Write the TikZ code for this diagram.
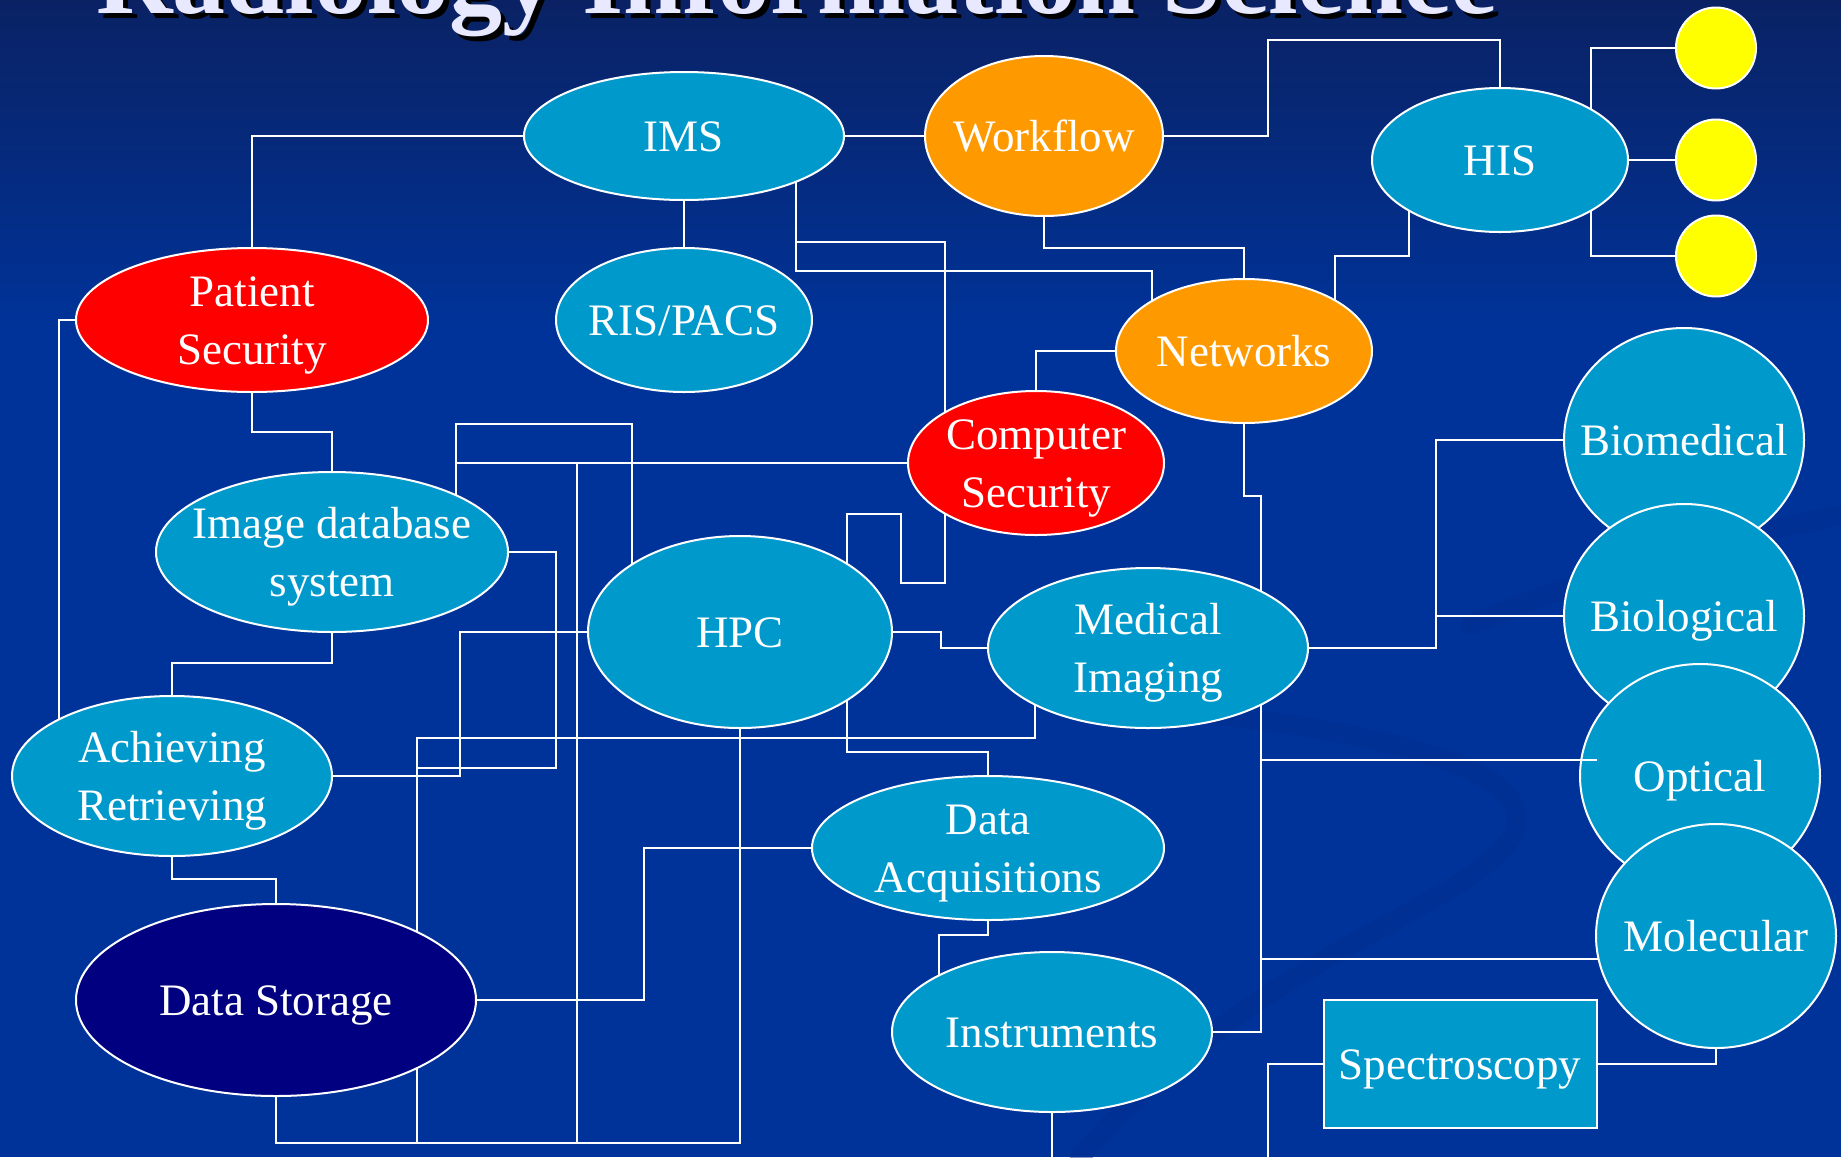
\documentclass[tikz,border=0pt]{standalone}
\usepackage{fontspec}
\setmainfont{Liberation Serif}
\usetikzlibrary{shapes.geometric}
\pgfdeclarelayer{bg}
\pgfdeclarelayer{lines}
\pgfsetlayers{bg,lines,main}
\definecolor{cyanb}{RGB}{0,153,204}
\definecolor{orng}{RGB}{255,153,0}
\definecolor{redn}{RGB}{255,0,0}
\definecolor{navyn}{RGB}{0,0,128}
\definecolor{yel}{RGB}{255,255,0}
\definecolor{bgmain}{RGB}{0,51,153}
\definecolor{bgtop}{RGB}{10,34,100}
\definecolor{titlecol}{RGB}{232,232,255}
\definecolor{swoosh}{RGB}{0,45,140}
\newcommand\lblfont{\fontsize{45}{58}\selectfont}
\newcommand\titlefont{\fontsize{106}{116}\selectfont\bfseries}
\newcommand\Ln[1]{\smash{#1}\rule{0pt}{30pt}}
\newcommand\Bub[7]{%
  \node[bub, fill=#6, minimum width=#4pt, minimum height=#5pt] (#1) at (#2,#3) {};
  \node[lbl] (#1-t) at (#1.center) {#7};}
\newcommand\ttl{Radiology Information Science}
\begin{document}
\begin{tikzpicture}[x=1pt,y=-1pt,
  bub/.style={ellipse, draw=white, line width=2pt, inner sep=0pt, outer sep=0pt},
  lbl/.style={text=white, font=\lblfont, align=center, inner sep=0pt},
  conn/.style={draw=white, line width=2pt},
  swirl/.style={draw=swoosh, line width=20pt, line cap=round, opacity=0.45}]
\useasboundingbox (0,0) rectangle (1841,1157);
\clip (0,0) rectangle (1841,1157);
\begin{pgfonlayer}{bg}
  \fill[bgmain] (0,0) rectangle (1841,1157);
  \shade[top color=bgtop, bottom color=bgmain] (0,0) rectangle (1841,330);
  \draw[swirl] (1060,700) .. controls (1330,720) and (1560,760) .. (1510,840)
     .. controls (1460,910) and (1250,960) .. (1080,1157);
  \draw[swirl] (1470,625) .. controls (1600,570) and (1720,540) .. (1841,515);
\end{pgfonlayer}

% title with its shadow
\node[anchor=base west, inner sep=0pt, font=\titlefont, text=titlecol] (title) at (96,13)
  {\rlap{\hspace{5pt}\raisebox{-5pt}{\color{black}\ttl}}\ttl};

% nodes
\Bub{ims}{684}{136}{320}{128}{cyanb}{\Ln{IMS}}
\Bub{workflow}{1044}{136}{238}{160}{orng}{\Ln{Workflow}}
\Bub{his}{1500}{160}{256}{144}{cyanb}{\Ln{HIS}}
\node[bub, fill=yel, minimum width=80pt, minimum height=81pt] (y1) at (1716,48) {};
\node[bub, fill=yel, minimum width=80pt, minimum height=81pt] (y2) at (1716,160) {};
\node[bub, fill=yel, minimum width=80pt, minimum height=81pt] (y3) at (1716,256) {};
\Bub{patsec}{252}{320}{352}{144}{redn}{\Ln{Patient}\\\Ln{Security}}
\Bub{rispacs}{684}{320}{256}{144}{cyanb}{\Ln{RIS/PACS}}
\Bub{networks}{1244}{351}{256}{144}{orng}{\Ln{Networks}}
\Bub{compsec}{1036}{463}{256}{144}{redn}{\Ln{Computer}\\\Ln{Security}}
\Bub{idb}{332}{552}{352}{160}{cyanb}{\Ln{Image database}\\\Ln{system}}
\Bub{hpc}{740}{632}{304}{192}{cyanb}{\Ln{HPC}}
\Bub{mi}{1148}{648}{320}{160}{cyanb}{\Ln{Medical}\\\Ln{Imaging}}
\Bub{achv}{172}{776}{320}{160}{cyanb}{\Ln{Achieving}\\\Ln{Retrieving}}
\Bub{dacq}{988}{848}{352}{144}{cyanb}{\Ln{Data}\\\Ln{Acquisitions}}
\Bub{dstor}{276}{1000}{400}{192}{navyn}{\Ln{Data Storage}}
\Bub{instr}{1052}{1032}{320}{160}{cyanb}{\Ln{Instruments}}
\Bub{biomed}{1684}{440}{240}{224}{cyanb}{\Ln{Biomedical}}
\Bub{biol}{1684}{616}{240}{224}{cyanb}{\Ln{Biological}}
\Bub{optical}{1700}{776}{240}{224}{cyanb}{\Ln{Optical}}
\Bub{molec}{1716}{936}{240}{224}{cyanb}{\Ln{Molecular}}
\node[draw=white, line width=2pt, fill=cyanb, minimum width=273pt, minimum height=128pt, inner sep=0pt] (spectro) at (1460,1064) {};
\node[lbl] (spectro-t) at (spectro.center) {\Ln{Spectroscopy}};

% bend points
\coordinate (c4a) at (1268,40);
\coordinate (hisx) at (1591,160);
\coordinate (c8) at (1100,248);
\coordinate (c9a) at (1409,256);
\coordinate (c9b) at (1335,256);
\coordinate (k1) at (796,242);
\coordinate (k2) at (945,242);
\coordinate (k3) at (945,583);
\coordinate (k4) at (901,583);
\coordinate (k5) at (901,514);
\coordinate (k6) at (847,514);
\coordinate (k7) at (796,271);
\coordinate (k8) at (1152,271);
\coordinate (k9) at (59,320);
\coordinate (k10) at (290,432);
\coordinate (k11) at (250,663);
\coordinate (k12) at (456,424);
\coordinate (k13) at (632,424);
\coordinate (k14) at (456,463);
\coordinate (k15) at (556,768);
\coordinate (k16) at (417,768);
\coordinate (k17) at (460,632);
\coordinate (k18) at (941,640);
\coordinate (k19) at (1035,738);
\coordinate (k20) at (417,738);
\coordinate (k21) at (417,1143);
\coordinate (k22) at (740,1143);
\coordinate (k23) at (577,463);
\coordinate (k24) at (577,1143);
\coordinate (k25) at (847,752);
\coordinate (k26) at (644,900);
\coordinate (k27) at (220,879);
\coordinate (k28) at (939,935);
\coordinate (k29) at (1261,496);
\coordinate (k30) at (1261,760);
\coordinate (k31) at (1597,760);
\coordinate (k32) at (1261,959);
\coordinate (k33) at (1436,440);
\coordinate (k35) at (1268,1157);
\coordinate (k36) at (1052,1157);

\begin{pgfonlayer}{lines}
  \draw[conn] (ims.west) -| (patsec.north);
  \draw[conn] (ims.south) -- (rispacs.north);
  \draw[conn] (ims.east) -- (workflow.west);
  \draw[conn] (workflow.east) -| (c4a) -| (his.north);
  \draw[conn] (hisx) |- (y1.west);
  \draw[conn] (his.east) -- (y2.west);
  \draw[conn] (hisx) |- (y3.west);
  \draw[conn] (workflow.south) |- (c8) -| (networks.north);
  \draw[conn] (his.center -| c9a) -- (c9a) -- (c9b) -- (c9b |- networks.center);
  \draw[conn] (ims.center -| k1) -- (k1) -- (k2) -- (k3) -- (k4) -- (k5) -- (k6) -- (k6 |- hpc.center);
  \draw[conn] (ims.center -| k7) -- (k7) -- (k8) -- (k8 |- networks.center);
  \draw[conn] (networks.west) -| (compsec.north);
  \draw[conn] (patsec.west) -- (k9) -- (k9 |- achv.center);
  \draw[conn] (patsec.south) |- (k10) -| (idb.north);
  \draw[conn] (idb.south) |- (k11) -| (achv.north);
  \draw[conn] (idb.center -| k12) -- (k12) -- (k13) -- (k13 |- hpc.center);
  \draw[conn] (k14) -- (compsec.west);
  \draw[conn] (k23) -- (k24);
  \draw[conn] (idb.east) -| (k15) -- (k16);
  \draw[conn] (achv.east) -| (k17) -- (hpc.west);
  \draw[conn] (hpc.east) -| (k18) |- (mi.west);
  \draw[conn] (mi.center -| k19) -- (k19) -- (k20) -- (k21);
  \draw[conn] (dstor.south) |- (k22) -- (hpc.south);
  \draw[conn] (hpc.center -| k25) -- (k25) -| (dacq.north);
  \draw[conn] (dstor.east) -| (k26) |- (dacq.west);
  \draw[conn] (achv.south) |- (k27) -| (dstor.north);
  \draw[conn] (dacq.south) |- (k28) -- (k28 |- instr.center);
  \draw[conn] (networks.south) |- (k29) |- (instr.east);
  \draw[conn] (k32) -- (molec.center |- k32);
  \draw[conn] (biomed.west) -- (k33) |- (mi.east);
  \draw[conn] (biol.west) -- (biol.west -| k33);
  \draw[conn] (molec.south) |- (spectro.east);
  \draw[conn] (spectro.west) -| (k35);
  \draw[conn] (instr.south) -- (k36);
\end{pgfonlayer}
\draw[conn] (k30) -- (k31);
\end{tikzpicture}
\end{document}
